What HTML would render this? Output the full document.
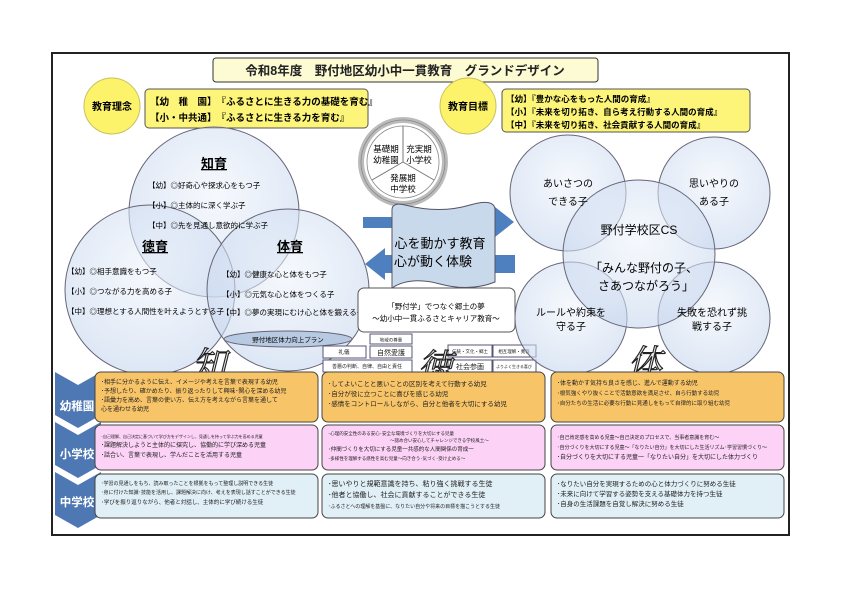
<!DOCTYPE html>
<html><head><meta charset="utf-8"><style>
html,body{margin:0;padding:0;background:#fff;}
svg{display:block;font-family:"Liberation Sans","Noto Sans CJK JP",sans-serif;}
</style></head><body>
<svg width="841" height="595" viewBox="0 0 841 595" xmlns="http://www.w3.org/2000/svg">
<defs>
<radialGradient id="cg" cx="50%" cy="40%" r="60%"><stop offset="0" stop-color="#eef3fb" stop-opacity="0.55"/><stop offset="1" stop-color="#c6d6ee" stop-opacity="0.6"/></radialGradient>
</defs>
<rect x="52" y="53" width="737" height="482" fill="#fff" stroke="#222" stroke-width="2"/>
<!-- title -->
<rect x="213" y="58" width="385" height="24" rx="3" fill="#fdfbd3" stroke="#333"/>
<text x="405" y="75" font-size="12.5" font-weight="bold" text-anchor="middle" fill="#222">令和8年度　野付地区幼小中一貫教育　グランドデザイン</text>
<!-- 理念 -->
<circle cx="112" cy="106" r="28" fill="#fdf36a" stroke="#c9c060"/>
<text x="112" y="110" font-size="10" font-weight="bold" text-anchor="middle">教育理念</text>
<rect x="145" y="89" width="223" height="39" rx="4" fill="#fdf57a" stroke="#555"/>
<text x="150" y="105" font-size="9.5" font-weight="bold">【幼　稚　園】　『ふるさとに生きる力の基礎を育む』</text>
<text x="150" y="121" font-size="9.5" font-weight="bold">【小・中共通】　『ふるさとに生きる力を育む』</text>
<!-- 目標 -->
<circle cx="468" cy="106" r="28" fill="#fdf36a" stroke="#c9c060"/>
<text x="468" y="110" font-size="10" font-weight="bold" text-anchor="middle">教育目標</text>
<rect x="502" y="89" width="248" height="43" rx="4" fill="#fdf57a" stroke="#555"/>
<text x="506" y="102" font-size="8.5" font-weight="bold">【幼】『豊かな心をもった人間の育成』</text>
<text x="506" y="115" font-size="8.5" font-weight="bold">【小】『未来を切り拓き、自ら考え行動する人間の育成』</text>
<text x="506" y="128" font-size="8.5" font-weight="bold">【中】『未来を切り拓き、社会貢献する人間の育成』</text>
<!-- cycle -->
<circle cx="403" cy="162" r="42" fill="none" stroke="#bbb" stroke-width="6"/>
<circle cx="403" cy="162" r="42" fill="none" stroke="#888" stroke-width="0.8"/>
<circle cx="403" cy="162" r="36" fill="#fff" stroke="#888" stroke-width="0.8"/>
<line x1="403" y1="162" x2="403" y2="126" stroke="#777"/>
<line x1="403" y1="162" x2="434" y2="180" stroke="#777"/>
<line x1="403" y1="162" x2="372" y2="180" stroke="#777"/>
<text x="386" y="152" font-size="8.5" text-anchor="middle">基礎期</text>
<text x="386" y="163" font-size="8.5" text-anchor="middle">幼稚園</text>
<text x="419" y="152" font-size="8.5" text-anchor="middle">充実期</text>
<text x="419" y="163" font-size="8.5" text-anchor="middle">小学校</text>
<text x="403" y="181" font-size="8.5" text-anchor="middle">発展期</text>
<text x="403" y="192" font-size="8.5" text-anchor="middle">中学校</text>
<!-- left circles -->
<circle cx="214" cy="212" r="85" fill="url(#cg)" stroke="#667"/>
<circle cx="150" cy="290" r="85" fill="url(#cg)" stroke="#667"/>
<circle cx="288" cy="290" r="81" fill="url(#cg)" stroke="#667"/>
<text x="214" y="168" font-size="13" font-weight="bold" text-anchor="middle" text-decoration="underline">知育</text>
<text x="148" y="188" font-size="7.5">【幼】◎好奇心や探求心をもつ子</text>
<text x="148" y="208" font-size="7.5">【小】◎主体的に深く学ぶ子</text>
<text x="148" y="228" font-size="7.5">【中】◎先を見通し意欲的に学ぶ子</text>
<text x="155" y="251" font-size="13" font-weight="bold" text-anchor="middle" text-decoration="underline">徳育</text>
<text x="67" y="274" font-size="7.5">【幼】◎相手意識をもつ子</text>
<text x="67" y="294" font-size="7.5">【小】◎つながる力を高める子</text>
<text x="67" y="314" font-size="7.5">【中】◎理想とする人間性を叶えようとする子</text>
<text x="290" y="251" font-size="13" font-weight="bold" text-anchor="middle" text-decoration="underline">体育</text>
<text x="222" y="277" font-size="7.5">【幼】◎健康な心と体をもつ子</text>
<text x="222" y="297" font-size="7.5">【小】◎元気な心と体をつくる子</text>
<text x="222" y="315" font-size="7.5">【中】◎夢の実現にむけ心と体を鍛える子</text>
<ellipse cx="288" cy="339" rx="64" ry="8" fill="#b8c9e2" stroke="#667"/>
<text x="288" y="342" font-size="6.5" text-anchor="middle">野付地区体力向上プラン</text>
<!-- arrows -->
<path d="M363 217 H495 V207 L514 222 L495 237 V228 H363 Z" fill="#4e7fbf"/>
<path d="M515 255 H385 V248 L365 264 L385 280 V273 H515 Z" fill="#4e7fbf"/>
<!-- scroll -->
<path d="M392 210 Q392 202 405 205 Q440 214 470 205 Q495 198 495 210 V282 Q470 292 440 284 Q410 276 392 288 Z" fill="#c9d9ec" stroke="#556"/>
<text x="440" y="248" font-size="13" text-anchor="middle">心を動かす教育</text>
<text x="433" y="266" font-size="13" text-anchor="middle">心が動く体験</text>
<!-- 野付学 -->
<rect x="358" y="288" width="157" height="44" rx="6" fill="#fff" stroke="#555"/>
<text x="436" y="309" font-size="7.5" text-anchor="middle">「野付学」でつなぐ郷土の夢</text>
<text x="436" y="321" font-size="7.5" text-anchor="middle">～幼小中一貫ふるさとキャリア教育～</text>
<!-- small boxes -->
<g font-size="5.5" text-anchor="middle" fill="#222">
<rect x="370" y="334" width="42" height="10" fill="#fff" stroke="#557"/><text x="391" y="341.5" font-size="4.5">地域の尊重</text>
<rect x="323" y="346" width="43" height="12" fill="#fff" stroke="#557"/><text x="344" y="354">礼儀</text>
<rect x="370" y="346" width="42" height="12" fill="#fff" stroke="#557"/><text x="391" y="355" font-size="7">自然愛護</text>
<rect x="323" y="360" width="89" height="12" fill="#fff" stroke="#557"/><text x="367" y="368" font-size="5">善悪の判断、自律、自由と責任</text>
<rect x="448" y="345" width="44" height="12" fill="#fff" stroke="#557"/><text x="470" y="353" font-size="4.5">伝統・文化・郷土</text>
<rect x="493" y="345" width="43" height="12" fill="#fff" stroke="#557"/><text x="514" y="353" font-size="4.5">相互理解・寛容</text>
<rect x="448" y="360" width="44" height="12" fill="#fff" stroke="#557"/><text x="470" y="369" font-size="7">社会参画</text>
<rect x="493" y="360" width="43" height="12" fill="#fff" stroke="#557"/><text x="514" y="368" font-size="4">よりよく生きる喜び</text>
</g>
<!-- right circles -->
<circle cx="568" cy="193" r="58" fill="url(#cg)" stroke="#667"/>
<circle cx="714" cy="193" r="56" fill="url(#cg)" stroke="#667"/>
<circle cx="571" cy="318" r="56" fill="url(#cg)" stroke="#667"/>
<circle cx="714" cy="318" r="56" fill="url(#cg)" stroke="#667"/>
<ellipse cx="639" cy="254" rx="76" ry="74" fill="url(#cg)" stroke="#667"/>
<text x="568" y="187" font-size="10" text-anchor="middle">あいさつの</text>
<text x="568" y="205" font-size="10" text-anchor="middle">できる子</text>
<text x="714" y="187" font-size="10" text-anchor="middle">思いやりの</text>
<text x="714" y="205" font-size="10" text-anchor="middle">ある子</text>
<text x="639" y="234" font-size="12" text-anchor="middle">野付学校区CS</text>
<text x="644" y="272" font-size="12" text-anchor="middle">「みんな野付の子、</text>
<text x="646" y="290" font-size="12" text-anchor="middle">さあつながろう」</text>
<text x="571" y="316" font-size="10" text-anchor="middle">ルールや約束を</text>
<text x="571" y="330" font-size="10" text-anchor="middle">守る子</text>
<text x="712" y="316" font-size="10" text-anchor="middle">失敗を恐れず挑</text>
<text x="712" y="330" font-size="10" text-anchor="middle">戦する子</text>
<!-- big chars -->
<g font-family="'Noto Serif CJK SC',serif" font-size="34" fill="#e8e8e8" stroke="#222" stroke-width="1.1" font-style="italic">
<text x="192" y="376">知</text><text x="418" y="378">徳</text><text x="628" y="374">体</text>
</g>
<!-- chevrons -->
<g fill="#4e78b4">
<path d="M55 372 L78 385 L101 372 V415 L78 428 L55 415 Z"/>
<path d="M55 422 L78 435 L101 422 V465 L78 478 L55 465 Z"/>
<path d="M55 472 L78 485 L101 472 V515 L78 528 L55 515 Z"/>
</g>
<g fill="#fff" font-size="11.5" font-weight="bold" text-anchor="middle">
<text x="77" y="410">幼稚園</text><text x="77" y="458">小学校</text><text x="77" y="506">中学校</text>
</g>
<!-- rows -->
<g stroke="#444">
<rect x="95" y="372" width="223" height="50" rx="6" fill="#f8c468"/>
<rect x="322" y="372" width="223" height="50" rx="6" fill="#f8c468"/>
<rect x="551" y="372" width="233" height="50" rx="6" fill="#f8c468"/>
<rect x="95" y="425" width="223" height="45" rx="6" fill="#fcd2f6"/>
<rect x="322" y="425" width="223" height="45" rx="6" fill="#fcd2f6"/>
<rect x="551" y="425" width="233" height="45" rx="6" fill="#fcd2f6"/>
<rect x="95" y="474" width="223" height="44" rx="6" fill="#e1f0f6"/>
<rect x="322" y="474" width="223" height="44" rx="6" fill="#e1f0f6"/>
<rect x="551" y="474" width="233" height="44" rx="6" fill="#e1f0f6"/>
</g>
<g font-size="6" fill="#222">
<text x="101" y="384">･相手に分かるように伝え、イメージや考えを言葉で表現する幼児</text>
<text x="101" y="393">･予想したり、確かめたり、振り返ったりして興味･関心を深める幼児</text>
<text x="101" y="402">･語彙力を高め、言葉の使い方、伝え方を考えながら言葉を通して</text>
<text x="101" y="411">心を通わせる幼児</text>
<text x="328" y="386" font-size="6.5">･してよいことと悪いことの区別を考えて行動する幼児</text>
<text x="328" y="396" font-size="6.5">･自分が役に立つことに喜びを感じる幼児</text>
<text x="328" y="406" font-size="6.5">･感情をコントロールしながら、自分と他者を大切にする幼児</text>
<text x="557" y="385">･体を動かす気持ち良さを感じ、進んで運動する幼児</text>
<text x="557" y="395" font-size="5.5">･根気強くやり抜くことで活動意欲を満足させ、自ら行動する幼児</text>
<text x="557" y="405" font-size="5.5">･自分たちの生活に必要な行動に見通しをもって自律的に取り組む幼児</text>
<text x="101" y="438" font-size="4">･自己理解、自己决定に基づいて学び方をデザインし、見通しを持って学ぶ力を高める児童</text>
<text x="101" y="447">･課題解決しようと主体的に探究し、協働的に学び深める児童</text>
<text x="101" y="457">･話合い、言葉で表現し、学んだことを活用する児童</text>
<text x="328" y="435" font-size="4.5">･心理的安全性のある安心･安全な環境づくりを大切にする児童</text>
<text x="390" y="442" font-size="4.5">～認め合い安心してチャレンジできる学校風土～</text>
<text x="328" y="451" font-size="5.5">･仲間づくりを大切にする児童一共感的な人間関係の育成一</text>
<text x="328" y="460" font-size="4.5">･多様性を理解する感性を高む児童～向き合う･気づく･受け止める～</text>
<text x="557" y="439" font-size="5">･自己肯定感を高める児童～自己決定のプロセスで、当事者意識を育む～</text>
<text x="557" y="449" font-size="5">･自分づくりを大切にする児童～「なりたい自分」を大切にした生活リズム･学習習慣づくり～</text>
<text x="557" y="459" font-size="6">･自分づくりを大切にする児童一「なりたい自分」を大切にした体力づくり</text>
<text x="101" y="485" font-size="5">･学習の見通しをもち、読み取ったことを根拠をもって整理し説明できる生徒</text>
<text x="101" y="494" font-size="5">･身に付けた知識･技能を活用し、課題解決に向け、考えを表現し話すことができる生徒</text>
<text x="101" y="504" font-size="5.5">･学びを振り返りながら、他者と対話し、主体的に学び続ける生徒</text>
<text x="328" y="486" font-size="7">･思いやりと規範意識を持ち、粘り強く挑戦する生徒</text>
<text x="328" y="497" font-size="7">･他者と協働し、社会に貢献することができる生徒</text>
<text x="328" y="508" font-size="5">･ふるさとへの理解を基盤に、なりたい自分や将来の目標を描こうとする生徒</text>
<text x="557" y="486" font-size="6.5">･なりたい自分を実現するための心と体力づくりに努める生徒</text>
<text x="557" y="496" font-size="6.5">･未来に向けて学習する姿勢を支える基礎体力を持つ生徒</text>
<text x="557" y="506" font-size="6.5">･自身の生活課題を自覚し解決に努める生徒</text>
</g>
</svg>
</body></html>
